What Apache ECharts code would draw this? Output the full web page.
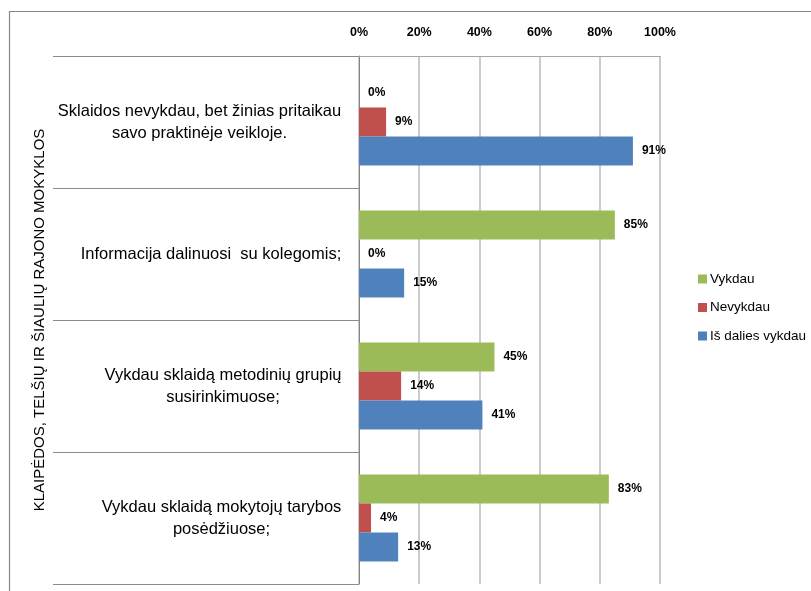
<!DOCTYPE html>
<html>
<head>
<meta charset="utf-8">
<script src="https://cdn.jsdelivr.net/npm/echarts@6/dist/echarts.min.js"></script>
<style>
html,body{margin:0;padding:0;background:#fff;}
#chart{width:811px;height:591px;}
</style>
</head>
<body>
<div id="chart"></div>
<script>
const categories = [
  "Sklaidos nevykdau, bet žinias pritaikau\nsavo praktinėje veikloje.",
  "Informacija dalinuosi  su kolegomis;",
  "Vykdau sklaidą metodinių grupių\nsusirinkimuose;",
  "Vykdau sklaidą mokytojų tarybos\nposėdžiuose;"
];
const seriesNames = ["Vykdau", "Nevykdau", "Iš dalies vykdau"];
const vykdau = [0, 85, 45, 83];
const nevykdau = [9, 0, 14, 4];
const isDaliesVykdau = [91, 15, 41, 13];
const xTicks = [0, 20, 40, 60, 80, 100];
const axisTitle = "KLAIPĖDOS, TELŠIŲ IR ŠIAULIŲ RAJONO MOKYKLOS";

const FONT = '"Liberation Sans", Arial, sans-serif';
const catFontSize = 16.5;

// measure category line widths so that lines are centered inside a right-aligned block
const cv = document.createElement('canvas').getContext('2d');
cv.font = catFontSize + 'px ' + FONT;
const rich = {};
categories.forEach((c, i) => {
  const w = Math.max(...c.split('\n').map(s => cv.measureText(s).width));
  rich['c' + i] = {
    width: Math.ceil(w) + 1,
    align: 'center',
    fontSize: catFontSize,
    fontFamily: FONT,
    color: '#000',
    lineHeight: 22
  };
});

const colors = ['#9BBB59', '#C0504D', '#4F81BD'];
const dataArrays = [vykdau, nevykdau, isDaliesVykdau];

const chart = echarts.init(document.getElementById('chart'), null, {renderer: 'canvas'});
chart.setOption({
  backgroundColor: '#ffffff',
  animation: false,
  color: colors,
  graphic: [{
    type: 'rect',
    shape: {x: 9.5, y: 11.5, width: 820, height: 600},
    style: {fill: 'none', stroke: '#868686', lineWidth: 1.2},
    silent: true,
    z: 0
  }],
  legend: {
    orient: 'vertical',
    left: 693,
    top: 267,
    itemWidth: 9,
    itemHeight: 9,
    itemGap: 14.5,
    icon: 'rect',
    data: seriesNames,
    textStyle: {fontFamily: FONT, fontSize: 13.5, color: '#000', padding: [0, 0, 0, -2]}
  },
  grid: {left: 359, top: 56, right: 151, bottom: 7, containLabel: false},
  xAxis: {
    type: 'value',
    position: 'top',
    min: 0,
    max: 100,
    interval: 20,
    axisLine: {show: true, lineStyle: {color: '#A6A6A6', width: 1.2}},
    axisTick: {show: false},
    splitLine: {show: true, lineStyle: {color: '#BEBEBE', width: 1.6}},
    axisLabel: {
      margin: 17,
      fontFamily: FONT,
      fontSize: 12.5,
      fontWeight: 'bold',
      color: '#000',
      formatter: v => xTicks.includes(v) ? v + '%' : ''
    }
  },
  yAxis: {
    type: 'category',
    inverse: true,
    data: categories,
    name: axisTitle,
    nameLocation: 'middle',
    nameRotate: 90,
    nameGap: 312,
    nameTextStyle: {fontFamily: FONT, fontSize: 15, color: '#000'},
    axisLine: {show: true, lineStyle: {color: '#868686', width: 1}},
    axisTick: {show: true, length: 306, lineStyle: {color: '#8C8C8C', width: 1}},
    axisLabel: {
      margin: 17,
      formatter: (v, i) => '{c' + i + '|' + v + '}',
      rich: rich
    }
  },
  series: seriesNames.map((name, k) => ({
    name: name,
    type: 'bar',
    data: dataArrays[k],
    barGap: '0%',
    barCategoryGap: '34%',
    itemStyle: {color: colors[k]},
    label: {
      show: true,
      position: 'right',
      distance: 9,
      formatter: p => p.value + '%',
      fontFamily: FONT,
      fontSize: 12,
      fontWeight: 'bold',
      color: '#000'
    }
  }))
});
</script>
</body>
</html>
